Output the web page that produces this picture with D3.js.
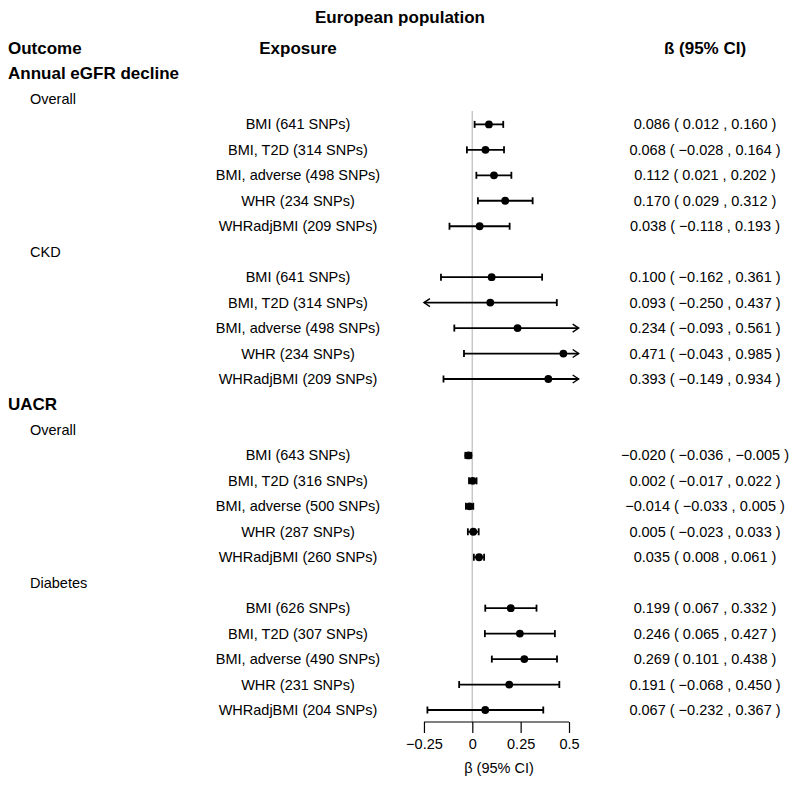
<!DOCTYPE html>
<html>
<head>
<meta charset="utf-8">
<script src="https://cdn.jsdelivr.net/npm/d3@7"></script>
<style>
  body { margin: 0; background: #fff; }
  svg { font-family: "Liberation Sans", Arial, Helvetica, sans-serif; }
</style>
</head>
<body>
<svg id="chart" width="800" height="785"></svg>
<script>
// ---- Data ----
const title = "European population";
const outcomes = ["Annual eGFR decline", "UACR"];
const subgroups = [["Overall", "CKD"], ["Overall", "Diabetes"]];
const exposures = [
  "BMI (641 SNPs)", "BMI, T2D (314 SNPs)", "BMI, adverse (498 SNPs)", "WHR (234 SNPs)", "WHRadjBMI (209 SNPs)",
  "BMI (641 SNPs)", "BMI, T2D (314 SNPs)", "BMI, adverse (498 SNPs)", "WHR (234 SNPs)", "WHRadjBMI (209 SNPs)",
  "BMI (643 SNPs)", "BMI, T2D (316 SNPs)", "BMI, adverse (500 SNPs)", "WHR (287 SNPs)", "WHRadjBMI (260 SNPs)",
  "BMI (626 SNPs)", "BMI, T2D (307 SNPs)", "BMI, adverse (490 SNPs)", "WHR (231 SNPs)", "WHRadjBMI (204 SNPs)"
];
const estimates = [0.086, 0.068, 0.112, 0.170, 0.038,
                   0.100, 0.093, 0.234, 0.471, 0.393,
                   -0.020, 0.002, -0.014, 0.005, 0.035,
                   0.199, 0.246, 0.269, 0.191, 0.067];
const lowers = [0.012, -0.028, 0.021, 0.029, -0.118,
                -0.162, -0.250, -0.093, -0.043, -0.149,
                -0.036, -0.017, -0.033, -0.023, 0.008,
                0.067, 0.065, 0.101, -0.068, -0.232];
const uppers = [0.160, 0.164, 0.202, 0.312, 0.193,
                0.361, 0.437, 0.561, 0.985, 0.934,
                -0.005, 0.022, 0.005, 0.033, 0.061,
                0.332, 0.427, 0.438, 0.450, 0.367];
const tickValues = [-0.25, 0, 0.25, 0.5];
const tickLabels = ["\u22120.25", "0", "0.25", "0.5"];
const clipRange = [-0.25, 0.55];
const axisTitle = "\u03B2 (95% CI)";
const headers = { outcome: "Outcome", exposure: "Exposure", ci: "\u00DF (95% CI)" };

// ---- Layout ----
const svg = d3.select("#chart");
const fmt = d3.format(".3f");
const x = d3.scaleLinear().domain([0, 0.5]).range([472.3, 569]);
const y = d3.scaleLinear().domain([0, 26]).range([48, 710]);
const FS = 14.5, FSB = 17;

// build row list
const rows = [];
let r = 1, k = 0;
outcomes.forEach((o, oi) => {
  rows.push({ type: "outcome", label: o, row: r++ });
  subgroups[oi].forEach(s => {
    rows.push({ type: "sub", label: s, row: r++ });
    for (let j = 0; j < 5; j++) {
      rows.push({ type: "data", i: k, row: r++ });
      k++;
    }
  });
});

// title
svg.append("text").attr("x", 400).attr("y", 17).attr("text-anchor", "middle")
  .attr("dominant-baseline", "central").attr("font-size", FSB).attr("font-weight", "bold").text(title);

// headers
const hdr = svg.append("g").attr("font-size", FSB).attr("font-weight", "bold").attr("dominant-baseline", "central");
hdr.append("text").attr("x", 8).attr("y", y(0)).text(headers.outcome);
hdr.append("text").attr("x", 298).attr("y", y(0)).attr("text-anchor", "middle").text(headers.exposure);
hdr.append("text").attr("x", 705).attr("y", y(0)).attr("text-anchor", "middle").text(headers.ci);

// zero line
svg.append("line").attr("x1", x(0)).attr("x2", x(0)).attr("y1", 111).attr("y2", 722)
  .attr("stroke", "#c8c8c8").attr("stroke-width", 1.5);

// text rows
const txt = svg.append("g").attr("dominant-baseline", "central");
rows.forEach(d => {
  const yy = y(d.row);
  if (d.type === "outcome") {
    txt.append("text").attr("x", 8).attr("y", yy).attr("font-size", FSB).attr("font-weight", "bold").text(d.label);
  } else if (d.type === "sub") {
    txt.append("text").attr("x", 30).attr("y", yy).attr("font-size", FS).text(d.label);
  } else {
    const i = d.i;
    txt.append("text").attr("x", 298).attr("y", yy).attr("text-anchor", "middle").attr("font-size", FS).text(exposures[i]);
    txt.append("text").attr("x", 705).attr("y", yy).attr("text-anchor", "middle").attr("font-size", FS)
      .text(`${fmt(estimates[i])} ( ${fmt(lowers[i])} , ${fmt(uppers[i])} )`);
  }
});

// CIs
const g = svg.append("g").attr("stroke", "#000").attr("stroke-width", 1.8).attr("fill", "none");
const capH = 3.5, arrW = 6, arrH = 4;
rows.filter(d => d.type === "data").forEach(d => {
  const i = d.i, yy = y(d.row);
  const loClip = lowers[i] <= clipRange[0];
  const hiClip = uppers[i] >= clipRange[1];
  const x1 = x(Math.max(lowers[i], clipRange[0]));
  const x2 = x(Math.min(uppers[i], clipRange[1]));
  g.append("line").attr("x1", x1).attr("x2", x2).attr("y1", yy).attr("y2", yy);
  if (loClip) {
    g.append("path").attr("d", `M${x1 + arrW},${yy - arrH}L${x1},${yy}L${x1 + arrW},${yy + arrH}`).attr("stroke-width", 1.4);
  } else {
    g.append("line").attr("x1", x1).attr("x2", x1).attr("y1", yy - capH).attr("y2", yy + capH);
  }
  if (hiClip) {
    g.append("path").attr("d", `M${x2 - arrW},${yy - arrH}L${x2},${yy}L${x2 - arrW},${yy + arrH}`).attr("stroke-width", 1.4);
  } else {
    g.append("line").attr("x1", x2).attr("x2", x2).attr("y1", yy - capH).attr("y2", yy + capH);
  }
  svg.append("circle").attr("cx", x(estimates[i])).attr("cy", yy).attr("r", 3.9).attr("fill", "#000");
});

// axis
const axis = d3.axisBottom(x).tickValues(tickValues).tickSize(11).tickSizeOuter(0)
  .tickFormat((v, j) => tickLabels[j]);
const ax = svg.append("g").attr("transform", "translate(0,722)").call(axis);
ax.select(".domain").attr("d", `M${x(tickValues[0])},0H${x(tickValues[tickValues.length - 1])}`).attr("stroke-width", 1.2);
ax.selectAll(".tick line").attr("stroke-width", 1.2);
ax.selectAll(".tick text").attr("font-size", FS).attr("font-family", "Liberation Sans, Arial, sans-serif").attr("dy", "0.9em").attr("fill", "#000");
svg.append("text").attr("x", 499).attr("y", 768).attr("text-anchor", "middle").attr("dominant-baseline", "central")
  .attr("font-size", FS).text(axisTitle);
</script>
</body>
</html>
